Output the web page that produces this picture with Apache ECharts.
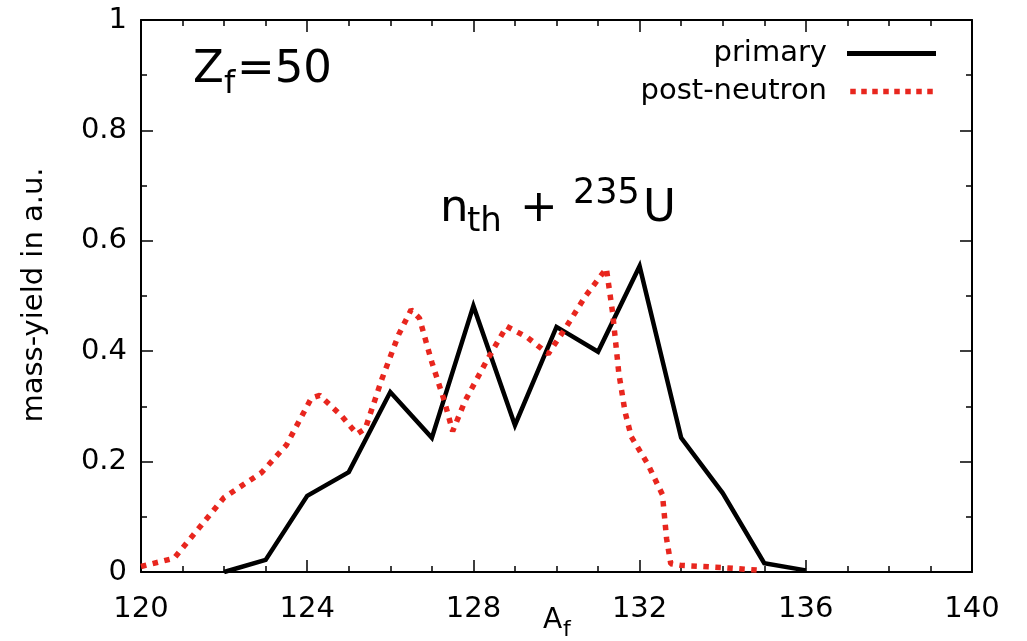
<!DOCTYPE html>
<html>
<head>
<meta charset="utf-8">
<script src="https://cdn.jsdelivr.net/npm/echarts@6/dist/echarts.min.js"></script>
<style>
html,body{margin:0;padding:0;background:#fff;}
#chart{width:1027px;height:641px;}
</style>
</head>
<body>
<div id="chart"></div>
<script>
// ---- data ----
const primaryA = [122, 123, 124, 125, 126, 127, 128, 129, 130, 131, 132, 133, 134, 135, 136];
const primaryY = [0.0, 0.022, 0.138, 0.181, 0.326, 0.243, 0.482, 0.266, 0.444, 0.399, 0.554, 0.243, 0.143, 0.016, 0.003];

const postA = [120.0, 120.8, 121.4, 122.0, 122.9, 123.5, 124.1, 124.3, 124.8, 125.2, 125.4, 125.8, 126.2, 126.5, 126.7, 127.0, 127.3, 127.5, 127.8, 128.3, 128.8, 129.3, 129.8, 130.2, 130.7, 131.2, 131.35, 131.5, 131.65, 131.8, 132.2, 132.55, 132.65, 132.75, 133.0, 134.0, 134.9];
const postY = [0.01, 0.025, 0.08, 0.135, 0.18, 0.23, 0.315, 0.32, 0.285, 0.25, 0.26, 0.35, 0.43, 0.475, 0.46, 0.38, 0.31, 0.255, 0.31, 0.38, 0.445, 0.425, 0.395, 0.44, 0.5, 0.55, 0.47, 0.36, 0.29, 0.245, 0.195, 0.14, 0.06, 0.015, 0.012, 0.008, 0.003];

const seriesNames = ['primary', 'post-neutron'];
const xTicks = [120, 124, 128, 132, 136, 140];
const yTicks = [0, 0.2, 0.4, 0.6, 0.8, 1];

const FONT = 'DejaVu Sans';
const RED = '#e8261e';
const chart = echarts.init(document.getElementById('chart'), null, {renderer: 'canvas'});

const axisLine = {show: true, onZero: false, lineStyle: {color: '#000', width: 2}};
const tick = {show: true, inside: true, length: 12, lineStyle: {color: '#000', width: 1.5}};
const minor = {show: true, length: 6, lineStyle: {color: '#000', width: 1.5}};

function xAx(pos, showLabel) {
  return {
    type: 'value', position: pos, min: xTicks[0], max: xTicks[xTicks.length - 1], interval: 4,
    axisLine: axisLine, axisTick: tick, minorTick: Object.assign({splitNumber: 4}, minor),
    splitLine: {show: false}, minorSplitLine: {show: false},
    axisLabel: {show: showLabel, color: '#000', fontFamily: FONT, fontSize: 29, margin: 23}
  };
}
function yAx(pos, showLabel) {
  return {
    type: 'value', position: pos, min: yTicks[0], max: yTicks[yTicks.length - 1], interval: 0.2,
    axisLine: axisLine, axisTick: tick, minorTick: Object.assign({splitNumber: 2}, minor),
    splitLine: {show: false}, minorSplitLine: {show: false},
    axisLabel: {show: showLabel, color: '#000', fontFamily: FONT, fontSize: 29, margin: 14,
      formatter: v => String(Math.round(v * 10) / 10)}
  };
}

let dashPath = 'path://';
for (let k = 0; k < 8; k++) dashPath += 'M' + (k * 12) + ',0h6v6h-6z';

const option = {
  animation: false,
  backgroundColor: '#fff',
  grid: {left: 141, right: 55, top: 20, bottom: 69, containLabel: false},
  xAxis: [xAx('bottom', true), xAx('top', false)],
  yAxis: [yAx('left', true), yAx('right', false)],
  legend: {
    orient: 'vertical', align: 'right', right: 86, top: 34,
    itemWidth: 89, itemHeight: 5.5, itemGap: 9,
    textStyle: {fontFamily: FONT, fontSize: 29, color: '#000', lineHeight: 29, padding: [0, 15, 0, 0]},
    data: [
      {name: seriesNames[0], icon: 'path://M0,0h89v5h-89z'},
      {name: seriesNames[1], icon: dashPath}
    ]
  },
  series: [
    {
      name: seriesNames[0], type: 'line', xAxisIndex: 0, yAxisIndex: 0,
      data: primaryA.map((a, i) => [a, primaryY[i]]),
      symbol: 'none', lineStyle: {color: '#000', width: 4.5, join: 'miter'}, itemStyle: {color: '#000'}
    },
    {
      name: seriesNames[1], type: 'line', xAxisIndex: 0, yAxisIndex: 0,
      data: postA.map((a, i) => [a, postY[i]]),
      symbol: 'none', lineStyle: {color: RED, width: 5.5, type: [5.5, 6.5]}, itemStyle: {color: RED}
    }
  ],
  graphic: [
    {type: 'text', left: 193, top: 48, style: {text: 'Z', font: '45px "DejaVu Sans"', fill: '#000'}},
    {type: 'text', left: 224, top: 69, style: {text: 'f', font: '32px "DejaVu Sans"', fill: '#000'}},
    {type: 'text', left: 237, top: 48, style: {text: '=50', font: '45px "DejaVu Sans"', fill: '#000'}},

    {type: 'text', left: 440, top: 187, style: {text: 'n', font: '45px "DejaVu Sans"', fill: '#000'}},
    {type: 'text', left: 467, top: 205, style: {text: 'th', font: '34px "DejaVu Sans"', fill: '#000'}},
    {type: 'text', left: 520, top: 187, style: {text: '+', font: '45px "DejaVu Sans"', fill: '#000'}},
    {type: 'text', left: 573, top: 176, style: {text: '235', font: '35px "DejaVu Sans"', fill: '#000'}},
    {type: 'text', left: 643, top: 187, style: {text: 'U', font: '45px "DejaVu Sans"', fill: '#000'}},

    {type: 'text', left: 543, top: 607, style: {text: 'A', font: '28px "DejaVu Sans"', fill: '#000'}},
    {type: 'text', left: 563, top: 619, style: {text: 'f', font: '22px "DejaVu Sans"', fill: '#000'}},

    {type: 'text', x: 34, y: 295, rotation: Math.PI / 2,
      style: {text: 'mass-yield in a.u.', font: '29px "DejaVu Sans"', fill: '#000', align: 'center', verticalAlign: 'middle'}}
  ]
};
chart.setOption(option);
</script>
</body>
</html>
